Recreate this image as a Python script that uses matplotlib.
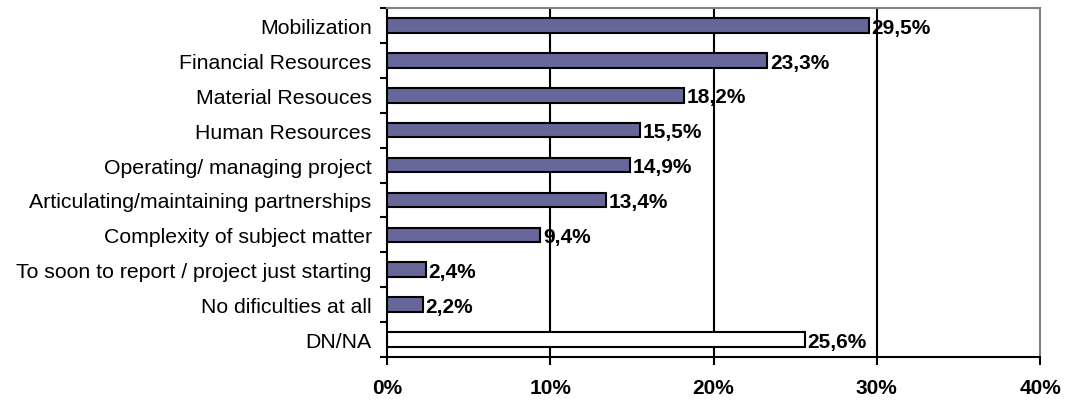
import matplotlib
matplotlib.use("Agg")
import matplotlib.pyplot as plt
import numpy as np

categories = ["Mobilization", "Financial Resources", "Material Resouces", "Human Resources",
              "Operating/ managing project", "Articulating/maintaining partnerships",
              "Complexity of subject matter", "To soon to report / project just starting",
              "No dificulties at all", "DN/NA"]
values = [29.5, 23.3, 18.2, 15.5, 14.9, 13.4, 9.4, 2.4, 2.2, 25.6]
value_labels = ["29,5%", "23,3%", "18,2%", "15,5%", "14,9%", "13,4%", "9,4%", "2,4%", "2,2%", "25,6%"]
xticks = [0, 10, 20, 30, 40]
xtick_labels = ["0%", "10%", "20%", "30%", "40%"]

plt.rcParams['font.family'] = ['Liberation Sans', 'DejaVu Sans']

fig = plt.figure(figsize=(10.65, 4.02), dpi=100)
ax = fig.add_axes([387/1065, 1-358/402, (1040-387)/1065, (358-9)/402])

n = len(categories)
ypos = np.arange(n)
colors = ["#666699"] * (n - 1) + ["white"]
ax.set_ylim(n - 0.5, -0.5)
ax.set_xlim(0, 40)
for x in [10, 20, 30]:
    ax.axvline(x, color="black", lw=1.5, zorder=1)
ax.barh(ypos, values, height=0.42, color=colors, edgecolor="black", linewidth=1.5, zorder=2)
for y, v, lab in zip(ypos, values, value_labels):
    ax.text(v + 0.15, y + 0.05, lab, va="center", ha="left", fontsize=15, fontweight="bold", zorder=3)

ax.set_yticks(np.arange(-0.5, n, 1.0))
ax.set_yticklabels([])
ax.set_yticks(ypos, minor=True)
ax.set_yticklabels(categories, minor=True, fontsize=15.3)
ax.tick_params(axis="y", which="minor", length=0, pad=11)
ax.tick_params(axis="y", which="major", length=5, width=1.5, direction="out")
ax.set_xticks(xticks)
ax.set_xticklabels(xtick_labels, fontsize=15, fontweight="bold")
ax.tick_params(axis="x", length=6, width=1.5, direction="out", pad=9)

for s in ["left", "bottom"]:
    ax.spines[s].set_color("black")
    ax.spines[s].set_linewidth(1.5)
for s in ["top", "right"]:
    ax.spines[s].set_color("#808080")
    ax.spines[s].set_linewidth(1.5)

fig.savefig("out.png", dpi=100)
